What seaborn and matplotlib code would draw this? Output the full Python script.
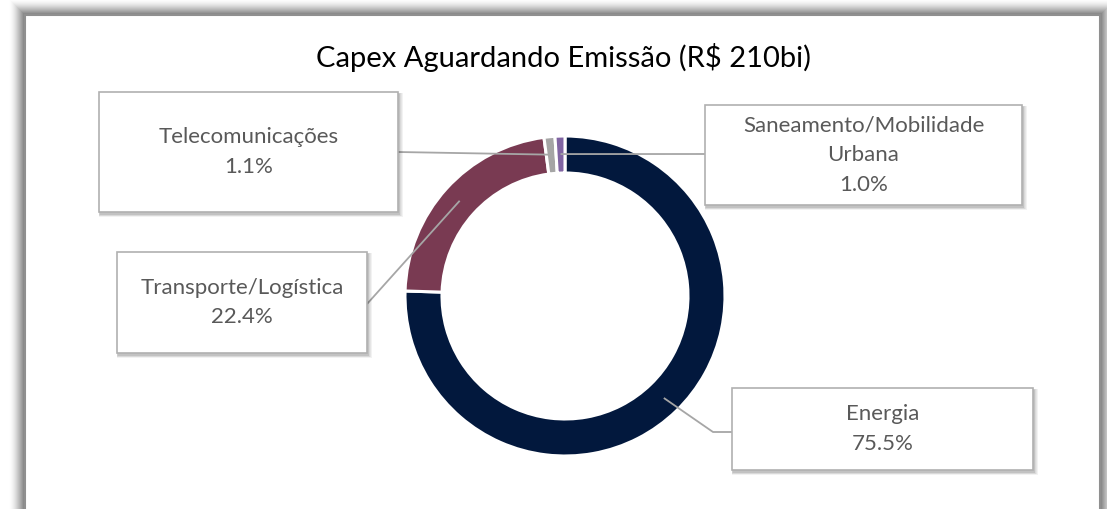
import matplotlib
matplotlib.use("Agg")
import matplotlib.pyplot as plt
import seaborn as sns
import numpy as np
from matplotlib.patches import Rectangle

# ---- data ----
categories = ["Energia", "Transporte/Logística", "Telecomunicações", "Saneamento/Mobilidade\nUrbana"]
values = [75.5, 22.4, 1.1, 1.0]
colors = ["#02183D", "#793A52", "#A5A5A5", "#8064A2"]
title = "Capex Aguardando Emissão (R$ 210bi)"

sns.set_theme(style="white")
plt.rcParams['font.family'] = ['Lato', 'DejaVu Sans']

W, H = 1107, 509
fig = plt.figure(figsize=(W / 100, H / 100), dpi=100)
ax = fig.add_axes([0, 0, 1, 1])
ax.set_xlim(0, W)
ax.set_ylim(0, H)
ax.axis("off")

def Y(y):
    return H - y

# ---- outer chart frame with soft shadow ----
fx0, fy0, fx1, fy1 = 25, 15, 1100, 560
for i in range(16, 0, -1):
    a = 0.075 * (17 - i) / 16
    ax.add_patch(Rectangle((fx0 - i, Y(fy1)), (fx1 - fx0) + 2 * i, (fy1 - fy0) + i,
                           facecolor="black", alpha=a, edgecolor="none", zorder=0))
ax.add_patch(Rectangle((fx0, Y(fy1)), fx1 - fx0, fy1 - fy0, facecolor="white",
                       edgecolor="#8F8F8F", linewidth=1.5, zorder=0.5))

# ---- donut ----
cx, cy, R = 565, 296, 160
wedges, _ = ax.pie(values, colors=colors, startangle=90, counterclock=False,
                   center=(cx, Y(cy)), radius=R, frame=False,
                   wedgeprops=dict(width=37, edgecolor="white", linewidth=2.2, zorder=2))
ax.set_xlim(0, W)
ax.set_ylim(0, H)
ax.set_aspect("auto")

# anchors at the middle of each wedge's ring
rmid = R - 18
anchors = []
for w in wedges:
    th = np.deg2rad((w.theta1 + w.theta2) / 2)
    anchors.append((cx + rmid * np.cos(th), Y(cy) + rmid * np.sin(th)))

# ---- label boxes (x0, y0, x1, y1 in pixels from top) ----
boxes = [
    (732, 388, 1033, 470),   # Energia
    (117, 252, 367, 353),    # Transporte
    (99, 92, 398, 212),      # Telecom
    (705, 105, 1022, 205),   # Saneamento
]
# leader line end points on box edges (pixels from top)
ends = [
    [(713, 432), (732, 432)],
    [(367, 304)],
    [(398, 152)],
    [(705, 154)],
]

line_color = "#A6A6A6"
for (a, e) in zip(anchors, ends):
    xs = [a[0]] + [p[0] for p in e]
    ys = [a[1]] + [Y(p[1]) for p in e]
    ax.plot(xs, ys, color=line_color, lw=1.3, zorder=3, solid_capstyle="butt")

for (x0, y0, x1, y1), cat, v in zip(boxes, categories, values):
    # shadow
    for i in range(5, 0, -1):
        ax.add_patch(Rectangle((x0 + 1 - i * 0.3, Y(y1) - 2 - i * 0.6), (x1 - x0) + i * 1.0, (y1 - y0) + i * 0.9,
                               facecolor="black", alpha=0.05, edgecolor="none", zorder=4))
    ax.add_patch(Rectangle((x0, Y(y1)), x1 - x0, y1 - y0, facecolor="white",
                           edgecolor="#B0B0B0", linewidth=1.2, zorder=5))
    ax.text((x0 + x1) / 2, Y((y0 + y1) / 2), f"{cat}\n{v:.1f}%", ha="center", va="center",
            fontsize=16, color="#595959", linespacing=1.62, zorder=6)

ax.text(563, Y(57), title, ha="center", va="center", fontsize=21, color="#000000", zorder=6)

fig.savefig("out.png", dpi=100)
